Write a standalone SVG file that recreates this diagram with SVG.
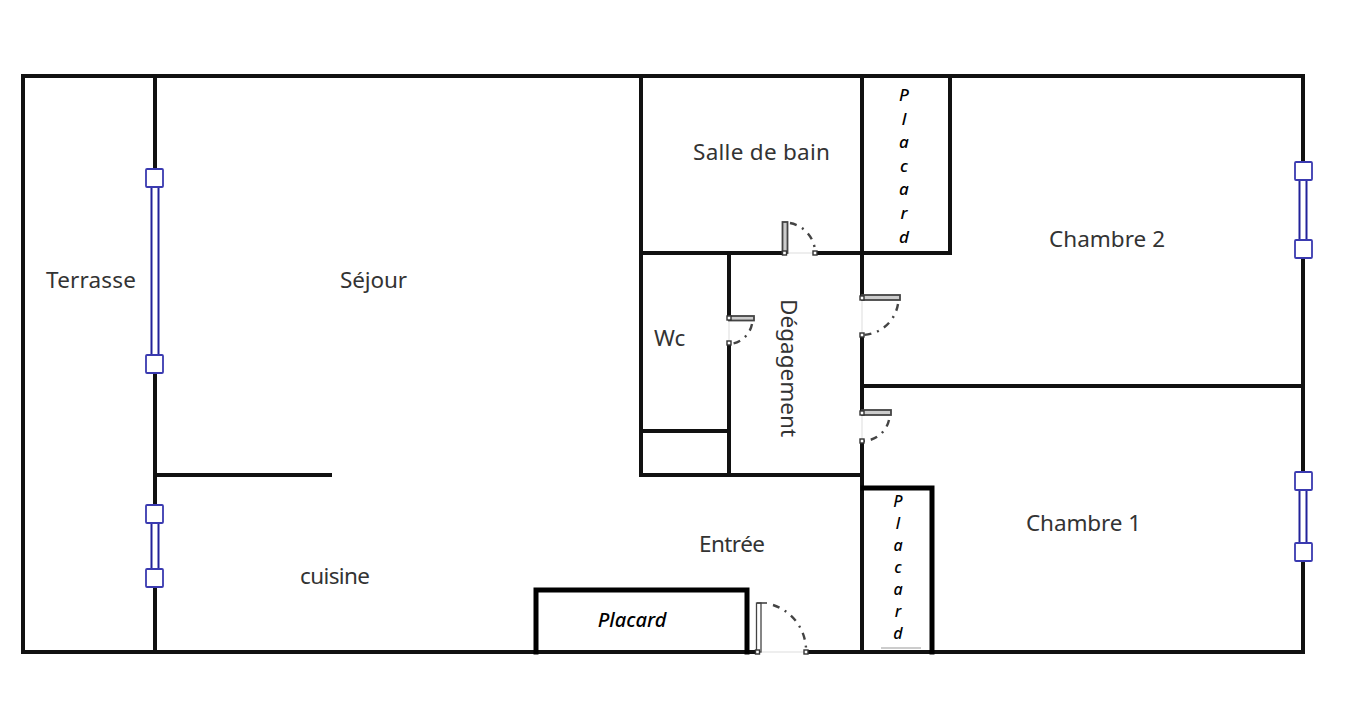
<svg xmlns="http://www.w3.org/2000/svg" width="1350" height="704" viewBox="0 0 1350 704">
<style>
.w{fill:none;stroke:#111;stroke-width:4;stroke-linecap:square}
.t{fill:none;stroke:#000;stroke-width:5;stroke-linecap:square}
.win{fill:#fff;stroke:#3a3ab0;stroke-width:1.800}
.pane{fill:#fff;stroke:#22229a;stroke-width:2}
.leaf{fill:#ccc;stroke:#444;stroke-width:1.800}
.hinge{fill:#fff;stroke:#333;stroke-width:1.400}
.arc{fill:none;stroke:#444;stroke-width:2.400;stroke-dasharray:7 6 2 6}
.sill{stroke:#ddd;stroke-width:1;fill:none}
text{font-family:"Noto Sans","DejaVu Sans",sans-serif;font-size:22.500px;fill:#333}
.p{font-family:"Noto Sans","DejaVu Sans",sans-serif;font-size:17px;font-style:italic;font-weight:500;fill:#000;text-anchor:middle}
.q{font-size:16px}
</style>
<rect width="1350" height="704" fill="#fff"/>
<g id="walls">
<path class="w" d="M23 76H1303M23 652H757M806 652H1303M23 76V652M1303 76V652"/>
<path class="w" d="M155 76V652M155 475H330"/>
<path class="w" d="M641 76V475M641 253H783M815 253H950M729 253V316M729 344V475M641 431H729M641 475H862"/>
<path class="w" d="M862 76V297M862 335V412M862 441V652M950 76V253M862 386H1303"/>
</g>
<g id="placards">
<path class="t" d="M536 652V590H747V652M863 488H932V652"/>
<path stroke="#999" stroke-width="1" d="M881 648H921"/>
</g>
<g id="fenetre-sejour">
<rect class="pane" x="151.500" y="186" width="7" height="170"/>
<rect class="win" x="146" y="169" width="17" height="18" rx="1"/>
<rect class="win" x="146" y="355" width="17" height="18" rx="1"/>
</g>
<g id="fenetre-cuisine">
<rect class="pane" x="151.500" y="522" width="7" height="48"/>
<rect class="win" x="146" y="505" width="17" height="18" rx="1"/>
<rect class="win" x="146" y="569" width="17" height="18" rx="1"/>
</g>
<g id="fenetre-chambre2">
<rect class="pane" x="1299.500" y="180" width="7" height="61"/>
<rect class="win" x="1295" y="162" width="17" height="18" rx="1"/>
<rect class="win" x="1295" y="240" width="17" height="18" rx="1"/>
</g>
<g id="fenetre-chambre1">
<rect class="pane" x="1299.500" y="490" width="7" height="54"/>
<rect class="win" x="1295" y="472" width="17" height="18" rx="1"/>
<rect class="win" x="1295" y="543" width="17" height="18" rx="1"/>
</g>
<g id="porte-bain">
<path class="sill" d="M785 253H815"/>
<rect class="leaf" x="782.500" y="222" width="5" height="31"/>
<path class="arc" d="M790 223A31 31 0 0 1 815 250"/>
<rect class="hinge" x="782.500" y="251" width="4" height="4"/><rect class="hinge" x="813" y="251" width="4" height="4"/>
</g>
<g id="porte-wc">
<path class="sill" d="M729 318V343"/>
<rect class="leaf" x="729" y="316" width="25" height="4.500"/>
<path class="arc" d="M752 324A25 25 0 0 1 730 344"/>
<rect class="hinge" x="727" y="316" width="4" height="4"/><rect class="hinge" x="727" y="341" width="4" height="4"/>
</g>
<g id="porte-chambre2">
<path class="sill" d="M862 298V335"/>
<rect class="leaf" x="862" y="295" width="38" height="5"/>
<path class="arc" d="M898 304A37 37 0 0 1 863 335"/>
<rect class="hinge" x="860" y="296" width="4" height="4"/><rect class="hinge" x="860" y="333" width="4" height="4"/>
</g>
<g id="porte-chambre1">
<path class="sill" d="M862 413V441"/>
<rect class="leaf" x="862" y="410" width="29" height="5"/>
<path class="arc" d="M889 420A27 27 0 0 1 863 441"/>
<rect class="hinge" x="860" y="411" width="4" height="4"/><rect class="hinge" x="860" y="439" width="4" height="4"/>
</g>
<g id="porte-entree">
<path class="sill" d="M758 652H806"/>
<rect fill="#fff" stroke="#444" stroke-width="1.300" x="756.500" y="603" width="4.500" height="49"/>
<path stroke="#444" stroke-width="1.600" fill="none" d="M757 603H767"/>
<path class="arc" d="M773 605A48 48 0 0 1 806 648"/>
<rect class="hinge" x="755.500" y="650" width="4" height="4"/><rect class="hinge" x="804" y="650" width="4" height="4"/>
</g>
<g id="labels">
<text x="46" y="288" textLength="90">Terrasse</text>
<text x="340" y="288" textLength="67">Séjour</text>
<text x="693" y="160" textLength="137">Salle de bain</text>
<text x="654" y="346">Wc</text>
<text transform="translate(781 299) rotate(90)" textLength="138">Dégagement</text>
<text x="1049" y="247" textLength="116">Chambre 2</text>
<text x="1026" y="531" textLength="115">Chambre 1</text>
<text x="699" y="552" textLength="66">Entrée</text>
<text x="300" y="584" textLength="70">cuisine</text>
<text class="p" x="632" y="627" style="font-size:20px">Placard</text>
<text class="p" x="904" y="101">P</text><text class="p" x="904" y="125">l</text><text class="p" x="904" y="148">a</text><text class="p" x="904" y="172">c</text><text class="p" x="904" y="195">a</text><text class="p" x="904" y="219">r</text><text class="p" x="904" y="243">d</text>
<text class="p q" x="898" y="507">P</text><text class="p q" x="898" y="529">l</text><text class="p q" x="898" y="551">a</text><text class="p q" x="898" y="573">c</text><text class="p q" x="898" y="595">a</text><text class="p q" x="898" y="617">r</text><text class="p q" x="898" y="639">d</text>
</g>
</svg>
